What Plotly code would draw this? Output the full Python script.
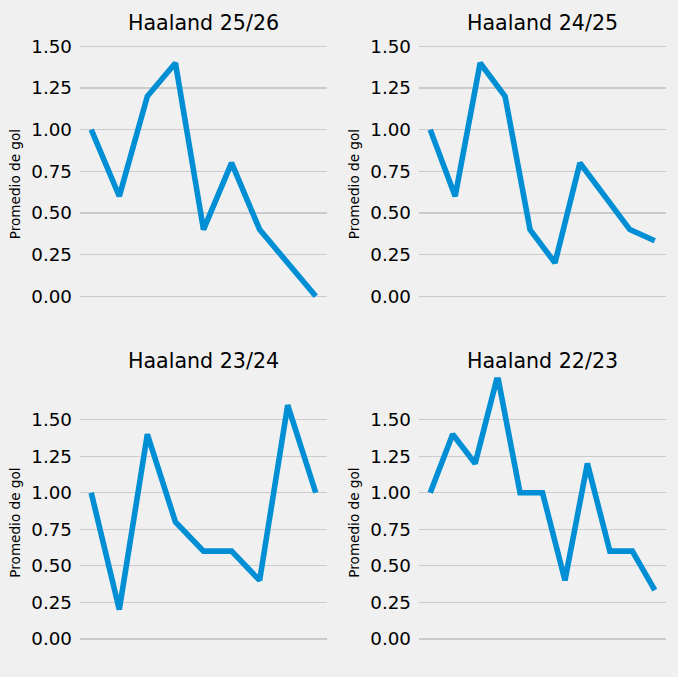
import plotly.graph_objects as go

titles = ["Haaland 25/26", "Haaland 24/25", "Haaland 23/24", "Haaland 22/23"]
s2526 = [1.0, 0.6, 1.2, 1.4, 0.4, 0.8, 0.4, 0.2, 0.0]
s2425 = [1.0, 0.6, 1.4, 1.2, 0.4, 0.2, 0.8, 0.6, 0.4, 0.333]
s2324 = [1.0, 0.2, 1.4, 0.8, 0.6, 0.6, 0.4, 1.6, 1.0]
s2223 = [1.0, 1.4, 1.2, 1.8, 1.0, 1.0, 0.4, 1.2, 0.6, 0.6, 0.333]
series = [s2526, s2425, s2324, s2223]
ytick_vals = [0.0, 0.25, 0.5, 0.75, 1.0, 1.25, 1.5]
ytick_text = ["0.00", "0.25", "0.50", "0.75", "1.00", "1.25", "1.50"]
ylabel = "Promedio de gol"

W, H = 678, 677
BG = "#f0f0f0"
FONT = "DejaVu Sans"

xdom = [(80, 327), (419, 666)]
ydom = [(36, 328), (376, 668)]
yranges = [[-0.2, 1.545], [-0.2, 1.79]]

fig = go.Figure()
for i, (vals, title) in enumerate(zip(series, titles)):
    r, c = divmod(i, 2)
    n = len(vals)
    xs = list(range(n))
    ax = "" if i == 0 else str(i + 1)
    fig.add_trace(go.Scatter(
        x=xs, y=vals, mode="lines",
        line=dict(color="#008fd5", width=5.6),
        xaxis="x" + ax, yaxis="y" + ax, showlegend=False,
        hoverinfo="skip",
    ))
    x0, x1 = xdom[c]
    y0, y1 = ydom[r]
    span = n - 1
    fig.update_layout({
        "xaxis" + ax: dict(
            domain=[x0 / W, x1 / W], range=[-0.05 * span, span * 1.05],
            showgrid=False, zeroline=False, showticklabels=False,
            anchor="y" + ax, fixedrange=True,
        ),
        "yaxis" + ax: dict(
            domain=[1 - y1 / H, 1 - y0 / H], range=yranges[r],
            tickvals=ytick_vals, ticktext=ytick_text,
            showgrid=True, gridcolor="#cbcbcb", gridwidth=1.4,
            zeroline=False, showline=False, ticks="",
            ticklabelstandoff=7,
            tickfont=dict(family=FONT, size=18.3, color="#000000"),
            anchor="x" + ax, fixedrange=True,
        ),
    })
    fig.add_annotation(
        text=title, xref="paper", yref="paper",
        x=(x0 + x1) / 2 / W, y=1 - (y0 - 16) / H,
        xanchor="center", yanchor="middle", showarrow=False,
        font=dict(family=FONT, size=20.6, color="#000000"),
    )
    fig.add_annotation(
        text=ylabel, xref="paper", yref="paper",
        x=(x0 - 65) / W, y=1 - (y0 + y1) / 2 / H,
        xanchor="center", yanchor="middle", showarrow=False, textangle=-90,
        font=dict(family=FONT, size=13.6, color="#000000"),
    )

fig.update_layout(
    width=W, height=H, margin=dict(l=0, r=0, t=0, b=0),
    paper_bgcolor=BG, plot_bgcolor=BG,
)
fig.write_html(
    "out.html",
    config={"displayModeBar": False, "staticPlot": True},
    post_script="document.body.style.margin='0';document.body.style.overflow='hidden';",
)
